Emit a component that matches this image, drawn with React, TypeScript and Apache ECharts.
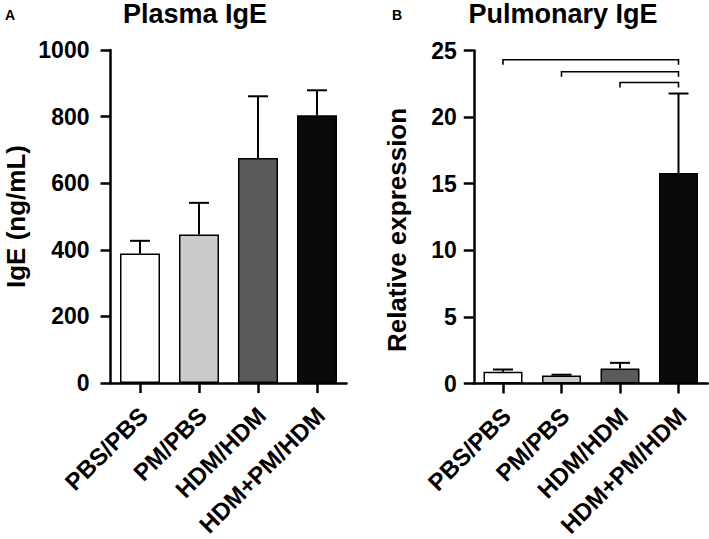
import React, { useEffect, useRef } from "react";
import * as echarts from "echarts";

const categories = ["PBS/PBS", "PM/PBS", "HDM/HDM", "HDM+PM/HDM"];
const barColors = ["#ffffff", "#cbcbcb", "#5a5a5a", "#0a0a0a"];

// Panel A: Plasma IgE (ng/mL)
const plasmaMeans = [389, 446, 676, 804];
const plasmaSem = [38, 95, 185, 75];
const plasmaTicks = { min: 0, max: 1000, interval: 200 };

// Panel B: Pulmonary IgE (relative expression)
const pulmonaryMeans = [0.88, 0.6, 1.13, 15.8];
const pulmonarySem = [0.17, 0.06, 0.42, 5.97];
const pulmonaryTicks = { min: 0, max: 25, interval: 5 };

// significance brackets: [fromIndex, toIndex, height]
const brackets = [
  [0, 3, 24.3],
  [1, 3, 23.4],
  [2, 3, 22.6],
];

const FONT = "'Liberation Sans', Arial, Helvetica, sans-serif";

function errorRender(params: any, api: any) {
  const idx = api.value(0);
  const base = api.coord([idx, api.value(1)]);
  const top = api.coord([idx, api.value(2)]);
  const half = 10;
  return {
    type: "group",
    children: [
      {
        type: "line",
        shape: { x1: base[0], y1: base[1], x2: top[0], y2: top[1] },
        style: { stroke: "#000", lineWidth: 2 },
      },
      {
        type: "line",
        shape: { x1: top[0] - half, y1: top[1], x2: top[0] + half, y2: top[1] },
        style: { stroke: "#000", lineWidth: 2 },
      },
    ],
  };
}

function bracketRender(params: any, api: any) {
  const a = api.coord([api.value(0), api.value(2)]);
  const b = api.coord([api.value(1), api.value(2)]);
  const drop = 5;
  return {
    type: "polyline",
    shape: {
      points: [
        [a[0], a[1] + drop],
        [a[0], a[1]],
        [b[0], b[1]],
        [b[0], b[1] + drop],
      ],
    },
    style: { stroke: "#000", lineWidth: 1.6, fill: "none" },
  };
}

function makeXAxis(gridIndex: number) {
  return {
    type: "category",
    gridIndex,
    data: categories,
    boundaryGap: true,
    axisLine: { show: true, lineStyle: { color: "#000", width: 2.5 } },
    axisTick: { show: true, alignWithLabel: true, length: 10, lineStyle: { color: "#000", width: 2.5 } },
    axisLabel: {
      interval: 0,
      rotate: 45,
      fontSize: 24,
      fontWeight: "bold",
      fontFamily: FONT,
      color: "#000",
      margin: 15,
      padding: [0, 7, 0, 0],
      verticalAlign: "top",
    },
    splitLine: { show: false },
  };
}

function makeYAxis(gridIndex: number, ticks: any, name: string, nameGap: number, labelMargin: number, namePadding: number[]) {
  return {
    type: "value",
    gridIndex,
    min: ticks.min,
    max: ticks.max,
    interval: ticks.interval,
    name,
    nameLocation: "middle",
    nameGap,
    nameTextStyle: {
      fontSize: 26,
      fontWeight: "bold",
      fontFamily: FONT,
      color: "#000",
      padding: namePadding,
    },
    axisLine: { show: true, lineStyle: { color: "#000", width: 2.5 } },
    axisTick: { show: true, length: 10, lineStyle: { color: "#000", width: 2.5 } },
    axisLabel: {
      fontSize: 23,
      fontWeight: "bold",
      fontFamily: FONT,
      color: "#000",
      margin: labelMargin,
      formatter: (v: number) => String(v),
    },
    splitLine: { show: false },
  };
}

export default function App() {
  const ref = useRef<HTMLDivElement>(null);

  useEffect(() => {
    if (!ref.current) return;
    const chart = echarts.init(ref.current, undefined, { renderer: "svg" });

    const barData = (means: number[]) =>
      means.map((v, i) => ({
        value: v,
        itemStyle: { color: barColors[i], borderColor: "#000", borderWidth: 1.5 },
      }));

    const option: any = {
      animation: false,
      backgroundColor: "#ffffff",
      grid: [
        { left: 110.5, width: 236, top: 50, height: 333, outerBoundsMode: "none", containLabel: false },
        { left: 473.75, width: 234, top: 50.5, height: 333, outerBoundsMode: "none", containLabel: false },
      ],
      xAxis: [makeXAxis(0), makeXAxis(1)],
      yAxis: [
        makeYAxis(0, plasmaTicks, "IgE (ng/mL)", 82, 21, [0, 0, 0, 0]),
        makeYAxis(1, pulmonaryTicks, "Relative expression", 64, 17, [0, 26, 0, 0]),
      ],
      graphic: [
        {
          type: "text",
          x: 195,
          y: 0,
          style: { text: "Plasma IgE", font: `bold 27px ${FONT}`, fill: "#000", textAlign: "center", textVerticalAlign: "top" },
        },
        {
          type: "text",
          x: 563,
          y: 0,
          style: { text: "Pulmonary IgE", font: `bold 27px ${FONT}`, fill: "#000", textAlign: "center", textVerticalAlign: "top" },
        },
        {
          type: "text",
          x: 5,
          y: 8,
          style: { text: "A", font: `bold 14px ${FONT}`, fill: "#000", textAlign: "left", textVerticalAlign: "top" },
        },
        {
          type: "text",
          x: 392,
          y: 8,
          style: { text: "B", font: `bold 14px ${FONT}`, fill: "#000", textAlign: "left", textVerticalAlign: "top" },
        },
      ],
      series: [
        {
          type: "bar",
          xAxisIndex: 0,
          yAxisIndex: 0,
          barWidth: 40,
          data: barData(plasmaMeans),
          z: 2,
        },
        {
          type: "custom",
          xAxisIndex: 0,
          yAxisIndex: 0,
          renderItem: errorRender,
          encode: { x: 0, y: [1, 2] },
          data: plasmaMeans.map((m, i) => [i, m, m + plasmaSem[i]]),
          clip: false,
          z: 3,
        },
        {
          type: "bar",
          xAxisIndex: 1,
          yAxisIndex: 1,
          barWidth: 39,
          data: barData(pulmonaryMeans),
          z: 2,
        },
        {
          type: "custom",
          xAxisIndex: 1,
          yAxisIndex: 1,
          renderItem: errorRender,
          encode: { x: 0, y: [1, 2] },
          data: pulmonaryMeans.map((m, i) => [i, m, m + pulmonarySem[i]]),
          clip: false,
          z: 3,
        },
        {
          type: "custom",
          xAxisIndex: 1,
          yAxisIndex: 1,
          renderItem: bracketRender,
          encode: { x: [0, 1], y: 2 },
          data: brackets,
          clip: false,
          z: 3,
        },
      ],
    };

    chart.setOption(option);
    return () => chart.dispose();
  }, []);

  return (
    <div
      ref={ref}
      style={{ position: "fixed", left: 0, top: 0, width: 709, height: 539, background: "#fff" }}
    />
  );
}
